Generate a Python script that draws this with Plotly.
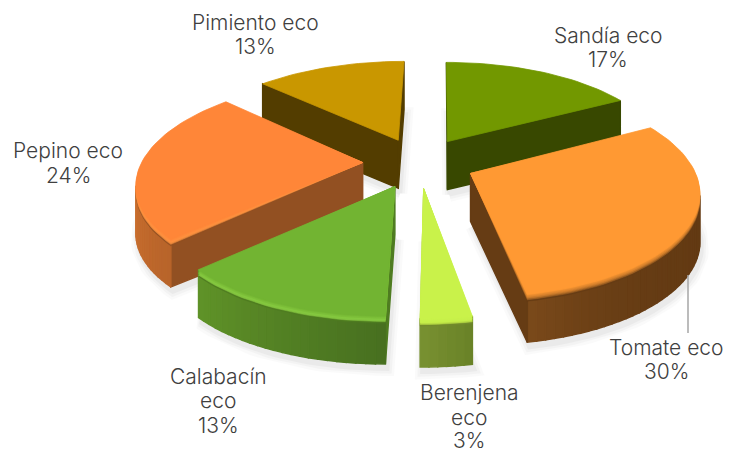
import math
import plotly.graph_objects as go

# ---- data (clockwise from 12 o'clock) ----
categories = ["Sandía eco", "Tomate eco", "Berenjena eco", "Calabacín eco", "Pepino eco", "Pimiento eco"]
label_lines = [["Sandía eco"], ["Tomate eco"], ["Berenjena", "eco"], ["Calabacín", "eco"], ["Pepino eco"], ["Pimiento eco"]]
values = [17, 30, 3, 13, 24, 13]

# ---- styles ----
top_colors = ["#729800", "#FF9933", "#C9F24A", "#72B432", "#FF8638", "#C99700"]
wall_colors = ["#384800", "#663C14", "#728A2C", "#4F7C21", "#925022", "#533D00"]
rim_start = ["#384800", "#633A13", "#6A8328", "#487020", "#B8642A", "#533D00"]
rim_end = ["#384800", "#7C4B1B", "#7A9232", "#609428", "#E88236", "#533D00"]
rim_power = [1, 6, 1, 1, 1, 1]
bevel_colors = [None, "#8A5420", "#C2E848", "#9BE04E", "#FF9E48", None]
label_x = [608, 666, 469, 218, 68, 255]
label_y = [[35, 59], [347, 371], [392, 417, 440], [376, 400, 425], [150, 175], [22, 46]]

CX, CY, R, TILT, D, EXPLODE, H, VX = 419, 162.5, 221, 0.447, 6.0, 0.255, 48, 440
W, HT = 731, 449


def project(wx, wy):
    f = D / (D - wy)
    return VX + (CX - VX + R * wx) * f, CY + R * TILT * wy * f


def mix(a, b, t):
    ca = [int(a[i:i + 2], 16) for i in (1, 3, 5)]
    cb = [int(b[i:i + 2], 16) for i in (1, 3, 5)]
    return "#%02X%02X%02X" % tuple(round(x + (y - x) * t) for x, y in zip(ca, cb))


def poly(pts, color, opacity=1.0, lw=0.8):
    xs = [p[0] for p in pts] + [pts[0][0]]
    ys = [p[1] for p in pts] + [pts[0][1]]
    return go.Scatter(x=xs, y=ys, mode="lines", fill="toself", fillcolor=color, opacity=opacity,
                      line=dict(color=color, width=lw), hoverinfo="skip", showlegend=False)


def shifted(pts, dx, dy):
    return [(x + dx, y + dy) for x, y in pts]


total = sum(values)
slices = []
a = 0.0
for i, v in enumerate(values):
    span = 360.0 * v / total
    slices.append((i, a, a + span))
    a += span

shadow_traces, body_traces = [], []
ordered = sorted(slices, key=lambda s: -math.cos(math.radians((s[1] + s[2]) / 2)))
for i, a0, a1 in ordered:
    mid = math.radians((a0 + a1) / 2)
    ax, ay = EXPLODE * math.sin(mid), -EXPLODE * math.cos(mid)
    n = max(6, int((a1 - a0) / 2))
    apex = project(ax, ay)
    rim = []
    for k in range(n + 1):
        th = math.radians(a0 + (a1 - a0) * k / n)
        rim.append(project(ax + math.sin(th), ay - math.cos(th)))
    top = [apex] + rim

    # soft ground shadow
    base = shifted(top, 2, H + 5)
    for lw, op in ((14, 0.035), (9, 0.05), (4, 0.07)):
        shadow_traces.append(go.Scatter(x=[p[0] for p in base] + [base[0][0]],
                                        y=[p[1] for p in base] + [base[0][1]],
                                        mode="lines", fill="toself", fillcolor="#808080", opacity=op,
                                        line=dict(color="#808080", width=lw), hoverinfo="skip",
                                        showlegend=False))

    # front-facing side walls only
    area = sum(top[j][0] * top[(j + 1) % len(top)][1] - top[(j + 1) % len(top)][0] * top[j][1]
               for j in range(len(top)))
    sign = 1 if area > 0 else -1
    for j in range(len(top)):
        p, q = top[j], top[(j + 1) % len(top)]
        ny = -(q[0] - p[0]) * sign
        if ny <= 0:
            continue
        if j == 0 or j == len(top) - 1:
            c = wall_colors[i]
        else:
            c = mix(rim_start[i], rim_end[i], ((j - 1) / n) ** rim_power[i])
        body_traces.append(poly([p, q, (q[0], q[1] + H), (p[0], p[1] + H)], c, lw=1.5))

    # rounded rim (bevel) + top face
    if bevel_colors[i]:
        for off, t in ((7, 0.0), (5.5, 0.25), (4, 0.55), (2.5, 0.75), (1, 0.9)):
            base_c = mix(wall_colors[i], bevel_colors[i], min(1, t * 3))
            body_traces.append(poly([apex] + shifted(rim, 0, off), mix(base_c, top_colors[i], t), lw=0.5))
    face = poly(top, top_colors[i])
    face.name = categories[i]
    face.customdata = [values[i]] * (len(top) + 1)
    face.hovertemplate = "%{fullData.name}: %{customdata}%<extra></extra>"
    face.hoverinfo = None
    body_traces.append(face)

fig = go.Figure(shadow_traces + body_traces)

for i, lines in enumerate(label_lines):
    texts = lines + [f"{round(100 * values[i] / total)}%"]
    for text, y in zip(texts, label_y[i]):
        fig.add_annotation(x=label_x[i], y=y, xref="x", yref="y", showarrow=False,
                           text=text, align="center", xanchor="center", yanchor="middle",
                           font=dict(family="Inter, sans-serif", size=21, color="#404040", weight=300))

# leader line of the Tomate label
fig.add_shape(type="line", xref="x", yref="y", x0=688, x1=688, y0=275, y1=333,
              line=dict(color="#A6A6A6", width=1.5))

fig.update_layout(width=W, height=HT, margin=dict(l=0, r=0, t=0, b=0),
                  paper_bgcolor="white", plot_bgcolor="white", showlegend=False,
                  xaxis=dict(range=[0, W], visible=False, fixedrange=True),
                  yaxis=dict(range=[HT, 0], visible=False, fixedrange=True))
fig.write_html("out.html", config={"displayModeBar": False},
               post_script="document.body.style.margin='0';document.documentElement.style.overflow='hidden';")
